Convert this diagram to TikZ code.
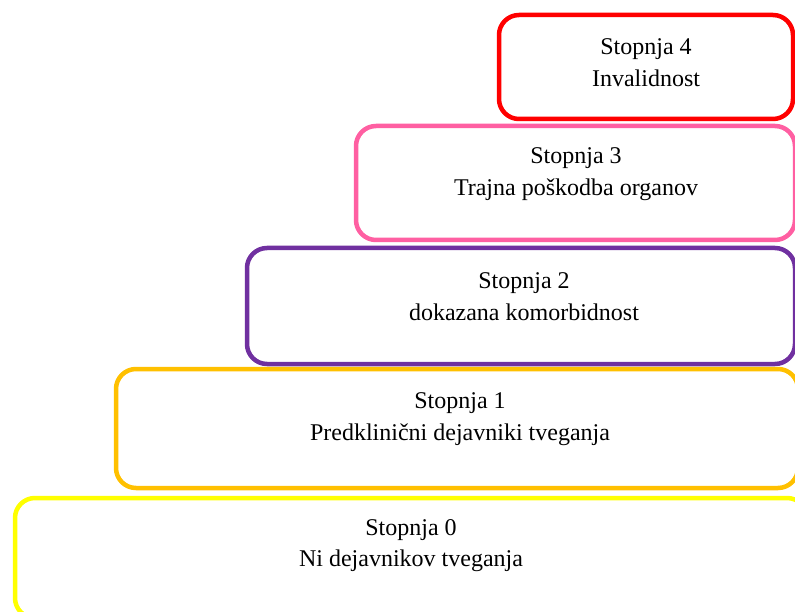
\documentclass[tikz,border=0pt]{standalone}
\usepackage{fontspec}
\setmainfont{Liberation Serif}
\usepackage{tikz}
\usetikzlibrary{positioning, calc}
\definecolor{StageRed}{RGB}{255, 0, 0}
\definecolor{StagePink}{RGB}{255, 95, 162}
\definecolor{StagePurple}{RGB}{112, 48, 160}
\definecolor{StageOrange}{RGB}{255, 192, 0}
\definecolor{StageYellow}{RGB}{255, 255, 0}

\tikzset{
  stagebox/.style={rectangle, rounded corners=20pt, line width=4.5pt,
    fill=white, inner sep=0pt},
  stagetext/.style={align=center, inner sep=0pt,
    font=\fontsize{24}{31.5}\selectfont}
}

\begin{document}
\begin{tikzpicture}[x=1pt, y=-1pt]
  \useasboundingbox (0,0) rectangle (795,612);
  \clip (0,0) rectangle (795,612);

  % stage boxes, top to bottom
  \node[stagebox, draw=StageRed, minimum width=294pt, minimum height=104pt]
    (s4) at (646,67) {};
  \node[stagebox, draw=StagePink, minimum width=439pt, minimum height=114pt]
    (s3) at (575.5,183) {};
  \node[stagebox, draw=StagePurple, minimum width=548pt, minimum height=116pt]
    (s2) at (521,306) {};
  \node[stagebox, draw=StageOrange, minimum width=682pt, minimum height=119pt]
    (s1) at (457,428.5) {};
  \node[stagebox, draw=StageYellow, minimum width=792pt, minimum height=120pt]
    (s0) at (411,558) {};

  % stage labels
  \node[stagetext] (t4) at (646,62.5) {Stopnja 4\\Invalidnost};
  \node[stagetext] (t3) at (576,174) {Stopnja 3\\Trajna poškodba organov};
  \node[stagetext] (t2) at (524,296.5) {Stopnja 2\\dokazana komorbidnost};
  \node[stagetext] (t1) at (460,419) {Stopnja 1\\Predklinični dejavniki tveganja};
  \node[stagetext] (t0) at (411,545.5) {Stopnja 0\\Ni dejavnikov tveganja};
\end{tikzpicture}
\end{document}
